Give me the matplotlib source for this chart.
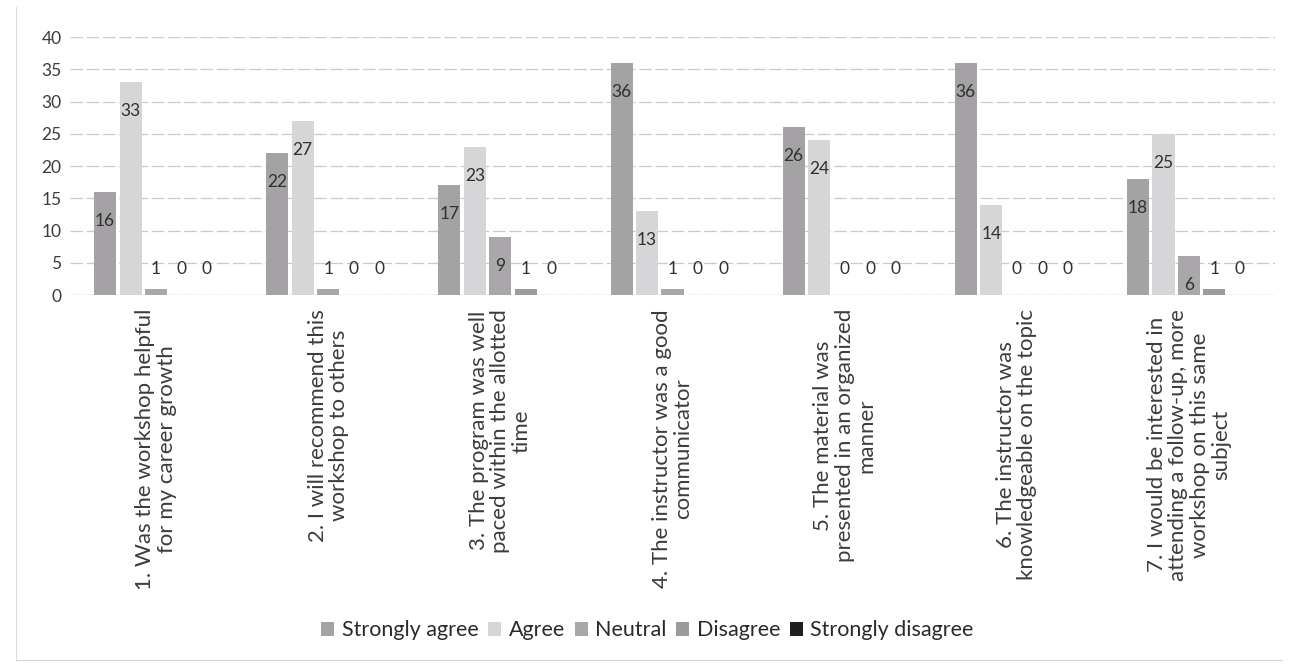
import matplotlib
matplotlib.use("Agg")
import matplotlib.pyplot as plt
import numpy as np

questions = [
    "1. Was the workshop helpful\nfor my career growth",
    "2. I will recommend this\nworkshop to others",
    "3. The program was well\npaced within the allotted\ntime",
    "4. The instructor was a good\ncommunicator",
    "5. The material was\npresented in an organized\nmanner",
    "6. The instructor was\nknowledgeable on the topic",
    "7. I would be interested in\nattending a follow-up, more\nworkshop on this same\nsubject",
]
strongly_agree = [16, 22, 17, 36, 26, 36, 18]
agree = [33, 27, 23, 13, 24, 14, 25]
neutral = [1, 1, 9, 1, 0, 0, 6]
disagree = [0, 0, 1, 0, 0, 0, 1]
strongly_disagree = [0, 0, 0, 0, 0, 0, 0]

series_names = ["Strongly agree", "Agree", "Neutral", "Disagree", "Strongly disagree"]
series_values = [strongly_agree, agree, neutral, disagree, strongly_disagree]
series_colors = ["#a4a2a4", "#d6d5d7", "#a9a7a9", "#9c9a9c", "#1f1f1f"]

yticks = [0, 5, 10, 15, 20, 25, 30, 35, 40]

plt.rcParams["font.family"] = ["Lato", "DejaVu Sans"]

fig = plt.figure(figsize=(12.95, 6.67), dpi=100)
ax = fig.add_axes([0.054, 0.5577, 0.9306, 0.3868])

x = np.arange(len(questions))
step = 0.148
width = 0.128
for k, (name, vals, col) in enumerate(zip(series_names, series_values, series_colors)):
    pos = x + (k - 2) * step
    ax.bar(pos, vals, width=width, color=col, label=name, zorder=3)
    for px, v in zip(pos, vals):
        ty = v - 4.5 if v >= 5 else 4.0
        ax.text(px, ty, str(v), ha="center", va="center", fontsize=12.5,
                color="#303030", zorder=4)

ax.set_xlim(-0.5, len(questions) - 0.5)
ax.set_ylim(0, 40)
ax.set_yticks(yticks)
ax.set_yticklabels([str(t) for t in yticks], fontsize=12.5, color="#3c3c3c")
ax.set_xticks(x)
ax.set_xticklabels(questions, rotation=90, ha="center", va="top",
                   multialignment="center", fontsize=16, color="#3c3c3c",
                   linespacing=1.08)
ax.tick_params(axis="both", length=0)
ax.tick_params(axis="y", pad=6)
ax.tick_params(axis="x", pad=10)
for sp in ax.spines.values():
    sp.set_visible(False)
ax.yaxis.grid(True, color="#c9c9c9", linewidth=0.9, linestyle=(0, (10, 3)), zorder=0)
ax.axhline(0, color="#cfcfcf", linewidth=0.9, zorder=2)

fig.legend(loc="center", bbox_to_anchor=(0.5, 0.055), ncol=5, frameon=False,
           fontsize=15.5, handlelength=0.6, handleheight=0.6, handletextpad=0.35,
           columnspacing=0.45, labelcolor="#2a2a2a")

# faint outer frame of the chart area
fig.add_artist(plt.Line2D([0.012, 0.012], [0.01, 0.99], color="#dcdcdc", lw=0.8))
fig.add_artist(plt.Line2D([0.012, 0.99], [0.01, 0.01], color="#d4d4d4", lw=0.8))

fig.savefig("out.png", dpi=100, facecolor="white")
